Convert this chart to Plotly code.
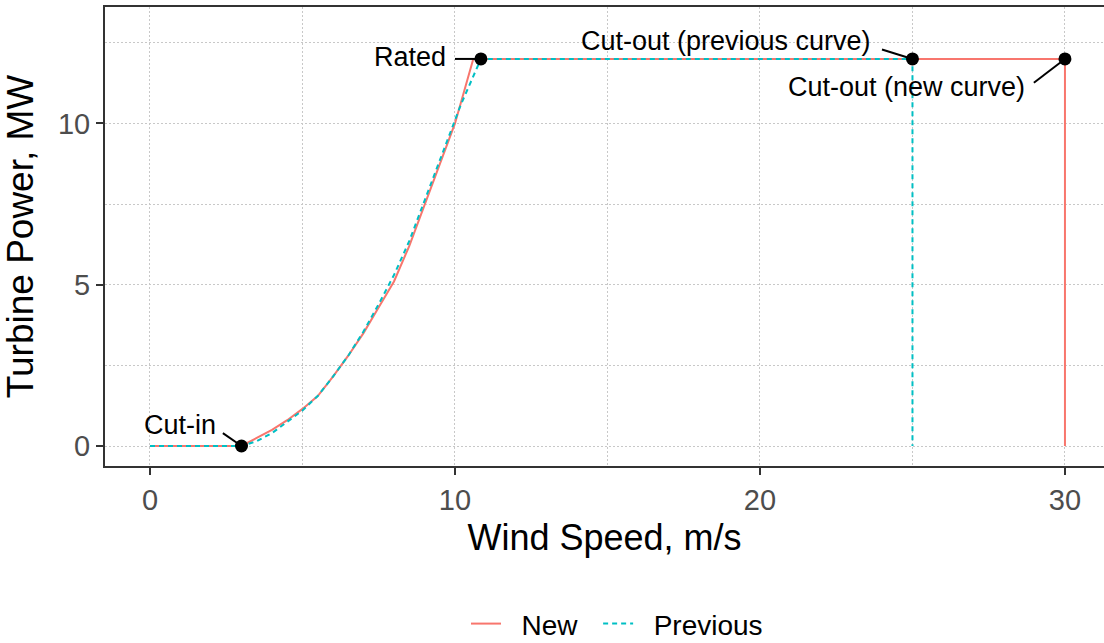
import plotly.graph_objects as go

# ---- data ----
wind_new = [0, 3, 3.5, 4, 4.5, 5, 5.5, 6, 6.5, 7, 7.5, 8, 8.5, 9, 9.5, 10, 10.3, 10.6, 30, 30]
power_new = [0, 0, 0.25, 0.5, 0.8, 1.15, 1.55, 2.15, 2.8, 3.5, 4.3, 5.1, 6.2, 7.45, 8.7, 10.0, 11.0, 12, 12, 0]

wind_prev = [0, 3, 3.5, 4, 4.5, 5, 5.5, 6, 6.5, 7, 7.5, 8, 8.5, 9, 9.5, 10, 10.2, 10.85, 25, 25]
power_prev = [0, 0, 0.15, 0.4, 0.75, 1.1, 1.55, 2.15, 2.8, 3.55, 4.4, 5.3, 6.35, 7.6, 8.85, 10.1, 10.6, 12, 12, 0]

point_labels = ["Cut-in", "Rated", "Cut-out (previous curve)", "Cut-out (new curve)"]
point_wind = [3, 10.85, 25, 30]
point_power = [0, 12, 12, 12]
# label text anchor (x, y) and leader-line start (x, y)
label_x = [2.23, 9.77, 23.7, 28.75]
label_y = [0.65, 12.05, 12.57, 11.14]
leader_x = [2.39, 10.0, 24.0, 28.98]
leader_y = [0.40, 12.0, 12.29, 11.26]

x_ticks = [0, 10, 20, 30]
y_ticks = [0, 5, 10]

RED = "#F8766D"
CYAN = "#00BFC4"
FONT = "Liberation Sans, Arial, sans-serif"
NB = "\u00a0"

fig = go.Figure()
fig.add_trace(go.Scatter(x=wind_new, y=power_new, mode="lines", name=NB * 2 + "New" + NB * 2,
                         line=dict(color=RED, width=2)))
fig.add_trace(go.Scatter(x=wind_prev, y=power_prev, mode="lines", name=NB * 2 + "Previous",
                         line=dict(color=CYAN, width=2, dash="5px,4px")))

# leader lines
for lx, ly, px, py in zip(leader_x, leader_y, point_wind, point_power):
    fig.add_trace(go.Scatter(x=[lx, px], y=[ly, py], mode="lines", showlegend=False,
                             line=dict(color="black", width=2), hoverinfo="skip"))

fig.add_trace(go.Scatter(x=point_wind, y=point_power, mode="markers", showlegend=False,
                         marker=dict(color="black", size=13)))

for t, x, y in zip(point_labels, label_x, label_y):
    fig.add_annotation(x=x, y=y, text=t, showarrow=False, xanchor="right", yanchor="middle",
                       font=dict(family=FONT, size=27, color="black"))

GRIDC = "#c8c8c8"
GDASH = "2px,2px"

fig.update_xaxes(range=[-1.475, 31.28], tickvals=x_ticks, ticks="outside", ticklen=7,
                 tickwidth=2, tickcolor="#333333", showline=True, linecolor="#333333",
                 linewidth=2, mirror=True, zeroline=False,
                 showgrid=True, gridcolor=GRIDC, gridwidth=1, griddash=GDASH,
                 tickfont=dict(family=FONT, size=29, color="#4d4d4d"),
                 title=dict(text="Wind Speed, m/s", font=dict(family=FONT, size=36, color="black"),
                            standoff=10),
                 minor=dict(tickvals=[5, 15, 25], showgrid=True, gridcolor=GRIDC,
                            griddash=GDASH, ticks=""))
fig.update_yaxes(range=[-0.62, 13.61], tickvals=y_ticks, ticks="outside", ticklen=7,
                 tickwidth=2, tickcolor="#333333", showline=True, linecolor="#333333",
                 linewidth=2, mirror=False, zeroline=False,
                 showgrid=True, gridcolor=GRIDC, gridwidth=1, griddash=GDASH,
                 tickfont=dict(family=FONT, size=29, color="#4d4d4d"),
                 title=dict(text="Turbine Power, MW", font=dict(family=FONT, size=37, color="black"),
                            standoff=14),
                 minor=dict(tickvals=[2.5, 7.5, 12.5], showgrid=True, gridcolor=GRIDC,
                            griddash=GDASH, ticks=""))

fig.update_layout(
    width=1104, height=643,
    margin=dict(l=105, r=0, t=7, b=177, autoexpand=False),
    plot_bgcolor="white", paper_bgcolor="white",
    showlegend=True,
    legend=dict(orientation="h", x=0.5125, y=-0.344, xanchor="center", yanchor="middle",
                font=dict(family=FONT, size=28, color="black"),
                bgcolor="rgba(0,0,0,0)"),
)

fig.write_html("out.html")
